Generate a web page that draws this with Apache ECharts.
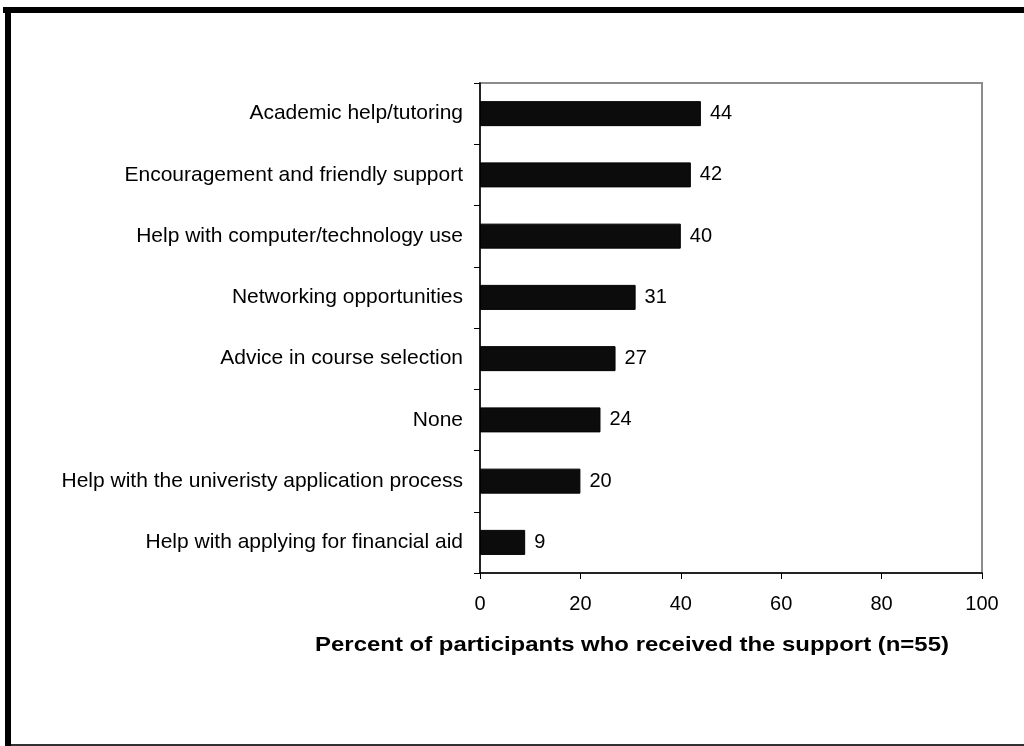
<!DOCTYPE html>
<html>
<head>
<meta charset="utf-8">
<style>
  html, body { margin: 0; padding: 0; background: #fff; }
  #chart { width: 1024px; height: 746px; }
</style>
<script src="https://cdn.jsdelivr.net/npm/echarts@6/dist/echarts.min.js"></script>
</head>
<body>
<div id="chart"></div>
<script>
// Support types, listed top to bottom
const categories = [
  'Academic help/tutoring',
  'Encouragement and friendly support',
  'Help with computer/technology use',
  'Networking opportunities',
  'Advice in course selection',
  'None',
  'Help with the univeristy application process',
  'Help with applying for financial aid'
];
// Percent of participants receiving each type of support
const percents = [44, 42, 40, 31, 27, 24, 20, 9];
const xTicks = [0, 20, 40, 60, 80, 100];
const axisTitle = 'Percent of participants who received the support (n=55)';

const FONT = '"Liberation Sans", Arial, sans-serif';

const chart = echarts.init(document.getElementById('chart'), null, { renderer: 'canvas' });

chart.setOption({
  animation: false,
  backgroundColor: '#fff',
  grid: {
    left: 480, right: 42, top: 83, bottom: 173,
    show: true, borderColor: '#8c8c8c', borderWidth: 2, backgroundColor: 'transparent'
  },
  xAxis: {
    type: 'value',
    min: xTicks[0],
    max: xTicks[xTicks.length - 1],
    interval: xTicks[1] - xTicks[0],
    axisLine: { show: true, lineStyle: { color: '#000', width: 1.5 } },
    axisTick: { show: true, length: 6, lineStyle: { color: '#000', width: 1 } },
    axisLabel: { margin: 21, color: '#000', fontSize: 20, fontFamily: FONT },
    splitLine: { show: false }
  },
  yAxis: {
    type: 'category',
    inverse: true,
    data: categories,
    axisLine: { show: true, lineStyle: { color: '#000', width: 1.5 } },
    axisTick: { show: true, length: 6, lineStyle: { color: '#000', width: 1 } },
    axisLabel: { margin: 17, color: '#000', fontSize: 21, fontFamily: FONT }
  },
  series: [{
    type: 'bar',
    data: percents,
    barWidth: 25,
    itemStyle: { color: '#0c0c0c', borderColor: '#000', borderWidth: 1 },
    label: {
      show: true, position: 'right', distance: 9,
      color: '#000', fontSize: 20, fontFamily: FONT
    }
  }],
  graphic: [
    // outer frame: heavy top and left rules, light bottom rule
    { type: 'rect', shape: { x: 3, y: 7, width: 1021, height: 6 }, style: { fill: '#000' }, z: 100 },
    { type: 'rect', shape: { x: 5, y: 7, width: 6, height: 739 }, style: { fill: '#000' }, z: 100 },
    { type: 'rect', shape: { x: 11, y: 744, width: 1013, height: 2 }, style: { fill: '#333' }, z: 100 },
    {
      type: 'text', x: 632, y: 645, scaleX: 1.14, z: 100,
      style: {
        text: axisTitle, fill: '#000', font: 'bold 21px ' + FONT,
        textAlign: 'center', textVerticalAlign: 'middle'
      }
    }
  ]
});
</script>
</body>
</html>
